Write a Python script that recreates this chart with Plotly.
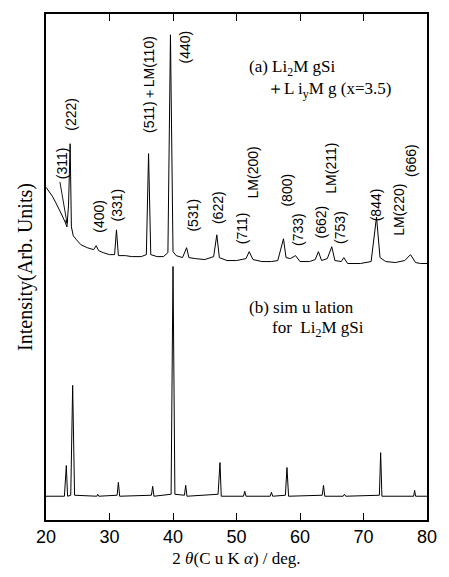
import plotly.graph_objects as go

# ---------------- data ----------------
# (a) measured pattern: 2-theta (deg) and intensity (arb. units)
exp_two_theta = [20.0, 20.5, 21.0, 21.5, 22.0, 22.5, 23.0, 23.3, 23.55, 23.8, 24.0, 24.3, 24.8,
                 25.5, 26.5, 27.5, 27.9, 28.3, 29.0, 30.0, 30.8, 31.1, 31.4, 32.5, 33.5, 35.0,
                 35.8, 36.15, 36.5, 37.5, 38.5, 39.2, 39.6, 40.0, 40.5, 41.5, 42.15, 42.5, 43.5,
                 45.0, 46.4, 46.9, 47.3, 48.5, 50.0, 51.5, 52.0, 52.6, 54.0, 55.5, 56.5, 57.4,
                 57.8, 58.5, 59.3, 60.0, 61.5, 62.4, 62.9, 63.4, 64.3, 65.0, 65.5, 66.5, 66.9,
                 67.5, 69.5, 71.2, 72.05, 72.6, 73.5, 75.0, 76.5, 77.4, 78.2, 79.0, 80.0]
exp_intensity = [336, 332, 327, 321, 315, 308, 301, 296, 318, 380, 296, 287, 283,
                 278, 275, 273, 277, 272, 270, 268, 268, 293, 267, 267, 266, 266,
                 268, 370, 268, 266, 266, 270, 490, 271, 267, 265, 275, 265, 264,
                 263, 266, 288, 265, 262, 262, 264, 271, 263, 261, 261, 262, 284,
                 265, 264, 267, 261, 261, 263, 271, 262, 264, 276, 262, 261, 265,
                 259, 259, 261, 306, 265, 261, 260, 262, 268, 260, 259, 259]

# (b) simulated pattern for Li2MgSi
sim_two_theta = [20.0, 22.9, 23.2, 23.4, 23.9, 24.2, 24.5, 28.0, 28.15, 28.3, 31.2, 31.4, 31.6,
                 36.6, 36.8, 37.0, 39.7, 40.0, 40.3, 41.8, 42.0, 42.2, 47.1, 47.4, 47.6,
                 51.1, 51.3, 51.5, 55.3, 55.5, 55.7, 57.7, 57.95, 58.2, 63.5, 63.7, 63.9,
                 66.8, 67.0, 67.2, 72.5, 72.7, 72.9, 77.9, 78.05, 78.2, 80.0]
sim_intensity = [24, 24, 55, 24, 25, 136, 25, 24, 26, 24, 25, 38, 24,
                 25, 34, 24, 26, 256, 26, 25, 35, 24, 26, 58, 24,
                 24, 29, 24, 24, 28, 24, 25, 53, 24, 25, 35, 24,
                 24, 26, 24, 25, 68, 24, 24, 30, 24, 24]

# peak index labels
peak_labels = ["(311)", "(222)", "(400)", "(331)", "(511)＋LM(110)", "(440)", "(531)", "(622)",
               "(711)", "LM(200)", "(800)", "(733)", "(662)", "LM(211)", "(753)", "(844)",
               "LM(220)", "(666)"]
x_ticks = [20, 30, 40, 50, 60, 70, 80]
x_tick_text = ["20", "30", "40", "50", "60", "70", "80"]

# ---------------- figure ----------------
fig = go.Figure()
fig.add_trace(go.Scatter(x=exp_two_theta, y=exp_intensity, mode="lines",
                         line=dict(color="black", width=1.0), showlegend=False))
fig.add_trace(go.Scatter(x=sim_two_theta, y=sim_intensity, mode="lines",
                         line=dict(color="black", width=1.0), showlegend=False))

label_pos = [(22.46, 360), (23.9, 410), (28.31, 307), (31.23, 318), (36.31, 440), (41.85, 478),
             (43.08, 308), (47.08, 316), (50.77, 295), (52.6, 351), (58.0, 333), (59.7, 293),
             (63.23, 301), (64.92, 355), (66.3, 295), (72.0, 318), (75.54, 313), (77.38, 363)]

annotations = []
for txt, (lx, ly) in zip(peak_labels, label_pos):
    annotations.append(dict(x=lx, y=ly, xref="x", yref="y", text=txt, showarrow=False,
                            textangle=-90, xanchor="center", yanchor="middle",
                            font=dict(family="Liberation Sans, Arial, sans-serif", size=14,
                                      color="black")))

# arrow for (311)
annotations.append(dict(x=23.33, y=299, ax=22.15, ay=343, xref="x", yref="y", axref="x",
                        ayref="y", text="", showarrow=True, arrowhead=2, arrowsize=0.8,
                        arrowwidth=0.9, arrowcolor="black"))

serif = "Liberation Serif, Times New Roman, serif"
annotations += [
    dict(x=51.69, y=456, xref="x", yref="y", text="(a) Li<sub>2</sub>M gSi", showarrow=False,
         xanchor="left", yanchor="middle", font=dict(family=serif, size=17, color="black")),
    dict(x=54.5, y=434, xref="x", yref="y", text="＋L i<sub>y</sub>M g (x=3.5)", showarrow=False,
         xanchor="left", yanchor="middle", font=dict(family=serif, size=17, color="black")),
    dict(x=51.69, y=215, xref="x", yref="y", text="(b) sim u lation", showarrow=False,
         xanchor="left", yanchor="middle", font=dict(family=serif, size=17, color="black")),
    dict(x=55.23, y=193, xref="x", yref="y", text="for  Li<sub>2</sub>M gSi", showarrow=False,
         xanchor="left", yanchor="middle", font=dict(family=serif, size=17, color="black")),
]

fig.update_layout(
    width=449, height=577,
    margin=dict(l=46, r=14, t=12, b=54),
    paper_bgcolor="white", plot_bgcolor="white",
    annotations=annotations,
    xaxis=dict(range=[20, 80], tickvals=x_ticks, ticktext=x_tick_text, ticks="inside",
               ticklen=7, tickwidth=1, tickcolor="black", showline=True, linecolor="black",
               linewidth=1.5, mirror="ticks", showgrid=False, zeroline=False,
               ticklabeloverflow="allow",
               tickfont=dict(family="Liberation Sans, Arial, sans-serif", size=18, color="black"),
               title=dict(text="2 <i>θ</i>(C u K <i>α</i>) / deg.", standoff=6,
                          font=dict(family=serif, size=17, color="black"))),
    yaxis=dict(range=[0, 511], showticklabels=False, ticks="", showline=True,
               linecolor="black", linewidth=1.5, mirror=True, showgrid=False, zeroline=False,
               title=dict(text="Intensity(Arb. Units)", standoff=6,
                          font=dict(family=serif, size=20, color="black"))),
)

fig.write_html("out.html")
